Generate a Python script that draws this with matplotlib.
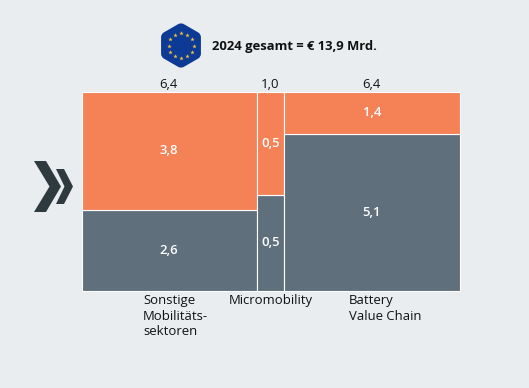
import numpy as np
import matplotlib
matplotlib.use("Agg")
import matplotlib.pyplot as plt
from matplotlib.patches import PathPatch, Polygon
from matplotlib.path import Path

plt.rcParams['font.family'] = ['Open Sans', 'DejaVu Sans']

categories = ["Sonstige\nMobilitäts-\nsektoren", "Micromobility", "Battery\nValue Chain"]
totals = [6.4, 1.0, 6.4]
grey_values = [2.6, 0.48, 5.1]
orange_values = [3.8, 0.52, 1.4]
title = "2024 gesamt = € 13,9 Mrd."

BG = "#e9edf0"
ORANGE = "#f58157"
GREY = "#5f707c"
DARK = "#2f3a3f"
W, H = 529, 388
FS = 9.45


def fmt(v):
    return f"{v:.1f}".replace(".", ",")


fig = plt.figure(figsize=(W / 100, H / 100), dpi=100, facecolor=BG)

# overlay in pixel coordinates for decorations
deco = fig.add_axes([0, 0, 1, 1])
deco.set_xlim(0, W)
deco.set_ylim(H, 0)
deco.axis("off")

# Marimekko axes
ax = fig.add_axes([81.5 / W, 1 - 290.5 / H, 378 / W, 199 / H])
ax.set_facecolor(BG)
ax.set_xlim(0, sum(totals))
ax.set_ylim(0, 1)
ax.axis("off")

left = 0.0
for cat, tot, g, o in zip(categories, totals, grey_values, orange_values):
    share_g = g / (g + o)
    ax.bar(left, share_g, width=tot, align="edge", color=GREY, edgecolor="white", linewidth=0.8, clip_on=False)
    ax.bar(left, 1 - share_g, width=tot, bottom=share_g, align="edge", color=ORANGE, edgecolor="white", linewidth=0.8, clip_on=False)
    cx = left + tot / 2
    ax.text(cx, share_g / 2, fmt(g), color="white", ha="center", va="center", fontsize=FS, fontweight="semibold")
    ax.text(cx, share_g + (1 - share_g) / 2, fmt(o), color="white", ha="center", va="center", fontsize=FS, fontweight="semibold")
    ax.annotate(fmt(tot), (cx, 1), xytext=(-0.6, 0.4), textcoords="offset points", ha="center", va="bottom", fontsize=FS, color="#111111")
    left += tot

# category labels (left-aligned under bars)
for txt, px in zip(categories, [143, 229, 349]):
    deco.text(px, 294, txt, ha="left", va="top", fontsize=FS, color="#111111", linespacing=1.26)

# title
deco.text(212, 46.5, title, ha="left", va="center", fontsize=9.4, fontweight="bold", color="#111111")

# EU flag hexagon
cx, cy, r = 181, 45.5, 23
ang = np.deg2rad(np.arange(-90, 270, 60))
pts = np.c_[cx + r * np.cos(ang), cy + r * np.sin(ang)]
verts, codes = [], []
n = len(pts)
for i in range(n):
    p, a, b = pts[i], pts[i - 1], pts[(i + 1) % n]
    s = p + (a - p) * 0.14
    e = p + (b - p) * 0.14
    verts += [s, p, e]
    codes += [Path.LINETO if i else Path.MOVETO, Path.CURVE3, Path.CURVE3]
verts.append(verts[0])
codes.append(Path.CLOSEPOLY)
deco.add_patch(PathPatch(Path(verts, codes), fc="#0d3a94", ec="none"))
sa = np.deg2rad(np.arange(0, 360, 30))
deco.scatter(cx + 12.5 * np.cos(sa), cy + 12.5 * np.sin(sa), marker="*", s=11, color="#f5c242", linewidths=0, zorder=3)

# chevrons
def chevron(x0, x1, tip, y0, y1, thick):
    ym = (y0 + y1) / 2
    return Polygon([(x0, y0), (x0 + thick, y0), (tip, ym), (x0 + thick, y1), (x0, y1), (x1, ym)],
                   closed=True, fc=DARK, ec="none")

deco.add_patch(chevron(34, 49.5, 61, 161, 212, 12))
deco.add_patch(chevron(56, 64.5, 73, 169, 204, 8))

fig.savefig("out.png", dpi=100, facecolor=BG)
